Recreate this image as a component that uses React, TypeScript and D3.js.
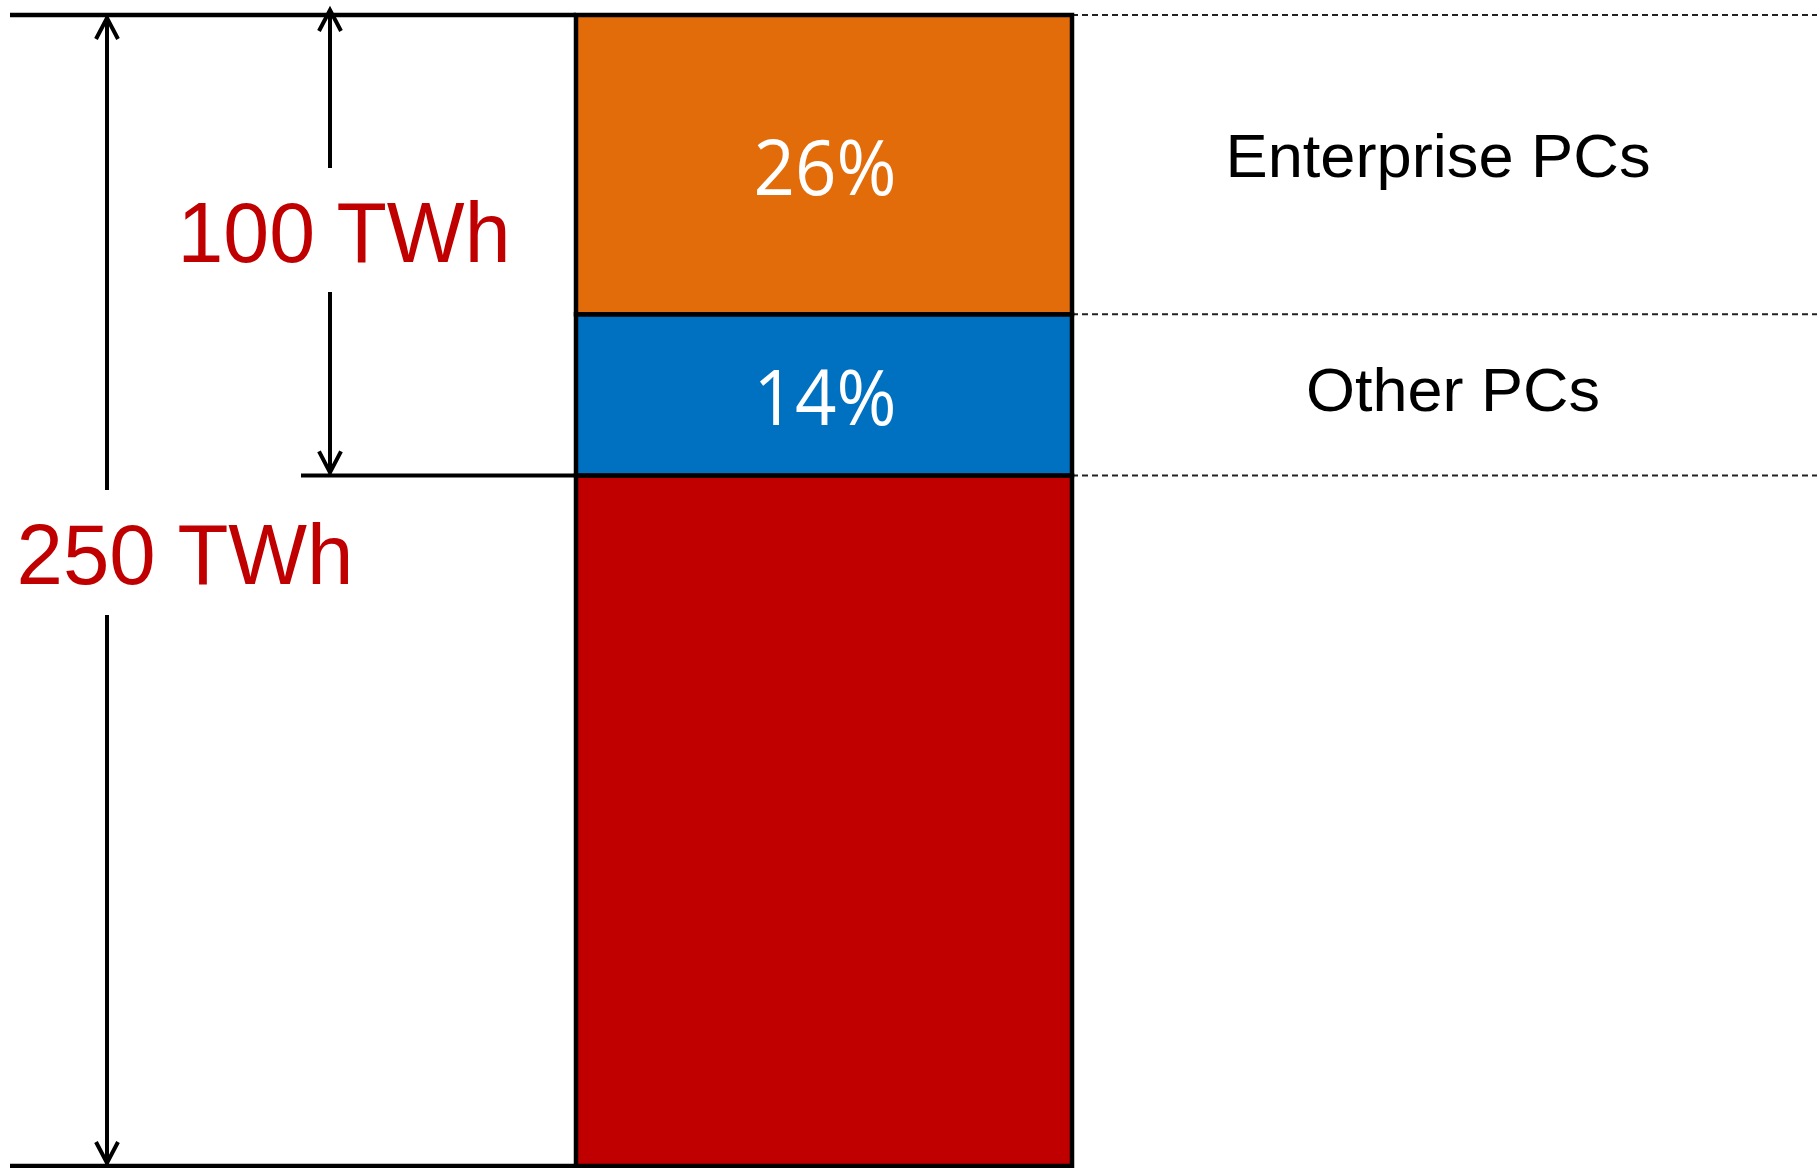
import React from "react";
import * as d3 from "d3";

const categories = ["Rest", "Other PCs", "Enterprise PCs"];
const shares = [60, 14, 26];
const totalTWh = 250;
const shareLabels = ["", "14%", "26%"];
const sideLabels = ["", "Other PCs", "Enterprise PCs"];
const bracketLabels = ["250 TWh", "100 TWh"];
const colors = ["#C00000", "#0070C0", "#E36C0A"];

export default function App() {
  const W = 1817, H = 1168;
  const values = shares.map((s) => (s / 100) * totalTWh);
  let acc = 0;
  const stacks = values.map((v, i) => {
    const s = { key: categories[i], y0: acc, y1: acc + v, i };
    acc += v;
    return s;
  });
  const y = d3.scaleLinear().domain([0, totalTWh]).range([1166, 15]);
  const x = d3.scaleBand().domain(["PCs"]).range([576, 1072]).padding(0);
  const bx = x("PCs")!;
  const bw = x.bandwidth();
  const topY = y(totalTWh);
  const botY = y(0);
  const pcBase = y(stacks[1].y0);

  const chevronUp = (cx: number, cy: number) => `M${cx - 11},${cy + 22} L${cx},${cy + 1} L${cx + 11},${cy + 22}`;
  const chevronDown = (cx: number, cy: number) => `M${cx - 11},${cy - 22} L${cx},${cy - 1} L${cx + 11},${cy - 22}`;

  const a1x = 107, a2x = 330;
  const font = "Liberation Sans, Arial, sans-serif";

  return (
    <svg width={W} height={H} style={{ position: "absolute", left: 0, top: 0, background: "#fff" }}>
      {/* dashed guides */}
      {[stacks[2].y1, stacks[2].y0, stacks[1].y0].map((v, i) => (
        <line key={"d" + i} x1={bx + bw} x2={W} y1={y(v)} y2={y(v)} stroke="#222" strokeWidth={2} strokeDasharray="6,4" />
      ))}
      {/* bar segments */}
      {stacks.map((s) => (
        <rect key={s.key} x={bx} y={y(s.y1)} width={bw} height={y(s.y0) - y(s.y1)} fill={colors[s.i]} stroke="#000" strokeWidth={4.5} />
      ))}
      {/* percent labels */}
      {stacks.map((s) =>
        shareLabels[s.i] ? (
          <text key={"p" + s.i} x={bx + bw / 2 + 1} y={s.i === 2 ? 195 : 425} textAnchor="middle" fill="#fff"
            fontFamily="Open Sans, Noto Sans, sans-serif" fontSize={77} textLength={143} lengthAdjust="spacingAndGlyphs">
            {shareLabels[s.i]}
          </text>
        ) : null
      )}
      {/* side labels */}
      <text x={1438} y={177} textAnchor="middle" fontFamily={font} fontSize={62} fill="#000" textLength={425} lengthAdjust="spacingAndGlyphs">{sideLabels[2]}</text>
      <text x={1453} y={411} textAnchor="middle" fontFamily={font} fontSize={62} fill="#000" textLength={294} lengthAdjust="spacingAndGlyphs">{sideLabels[1]}</text>
      {/* horizontal reference lines */}
      <line x1={10} x2={bx} y1={topY} y2={topY} stroke="#000" strokeWidth={4.5} />
      <line x1={10} x2={bx} y1={botY} y2={botY} stroke="#000" strokeWidth={4.5} />
      <line x1={301} x2={bx} y1={pcBase} y2={pcBase} stroke="#000" strokeWidth={4} />
      {/* 250 TWh arrow */}
      <line x1={a1x} x2={a1x} y1={topY + 2} y2={490} stroke="#000" strokeWidth={4} />
      <line x1={a1x} x2={a1x} y1={615} y2={botY - 2} stroke="#000" strokeWidth={4} />
      <path d={chevronUp(a1x, topY + 2)} fill="none" stroke="#000" strokeWidth={4} />
      <path d={chevronDown(a1x, botY - 2)} fill="none" stroke="#000" strokeWidth={4} />
      <text x={185} y={584} textAnchor="middle" fontFamily={font} fontSize={85} fill="#C00000" textLength={337} lengthAdjust="spacingAndGlyphs">{bracketLabels[0]}</text>
      {/* 100 TWh arrow */}
      <line x1={a2x} x2={a2x} y1={topY - 4} y2={168} stroke="#000" strokeWidth={4} />
      <line x1={a2x} x2={a2x} y1={292} y2={pcBase - 2} stroke="#000" strokeWidth={4} />
      <path d={chevronUp(a2x, topY - 6)} fill="none" stroke="#000" strokeWidth={4} />
      <path d={chevronDown(a2x, pcBase - 2)} fill="none" stroke="#000" strokeWidth={4} />
      <text x={344} y={262} textAnchor="middle" fontFamily={font} fontSize={85} fill="#C00000" textLength={333} lengthAdjust="spacingAndGlyphs">{bracketLabels[1]}</text>
    </svg>
  );
}
